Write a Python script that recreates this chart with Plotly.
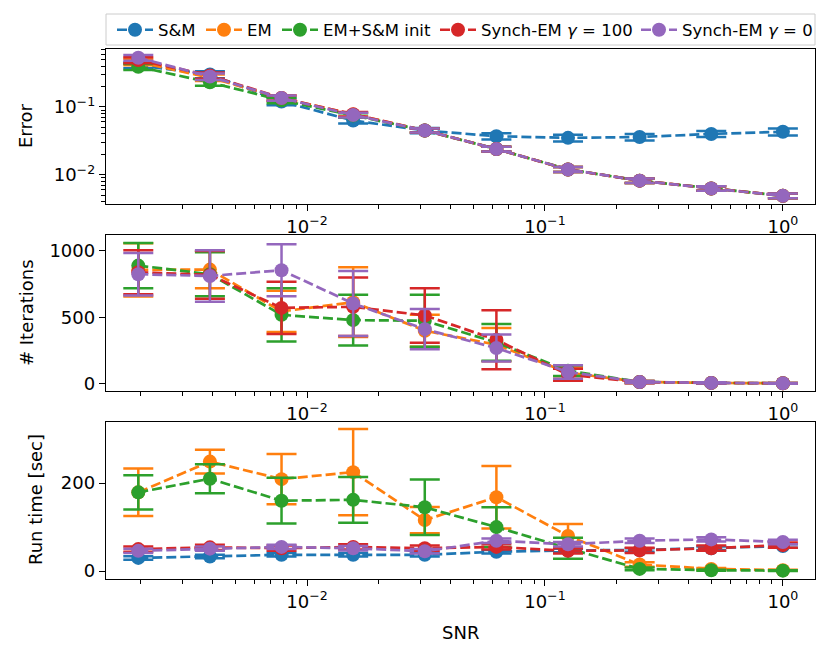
import plotly.graph_objects as go

# ---------------- data ----------------
snr = [0.001953125, 0.00390625, 0.0078125, 0.015625, 0.03125, 0.0625, 0.125, 0.25, 0.5, 1.0]

series_names = ["S&M", "EM", "EM+S&M init", "Synch-EM <i>γ</i> = 100", "Synch-EM <i>γ</i> = 0"]
colors = ["#1f77b4", "#ff7f0e", "#2ca02c", "#d62728", "#9467bd"]

# Error (top panel)
err_sm = [0.41, 0.30, 0.12, 0.063, 0.045, 0.037, 0.035, 0.036, 0.040, 0.043]
err_sm_sd = [0.04, 0.035, 0.014, 0.006, 0.004, 0.004, 0.004, 0.004, 0.004, 0.005]
err_em = [0.46, 0.27, 0.135, 0.077, 0.045, 0.024, 0.012, 0.0082, 0.0063, 0.0049]
err_em_sd = [0.05, 0.03, 0.012, 0.006, 0.003, 0.002, 0.001, 0.0006, 0.0005, 0.0004]
err_emsm = [0.39, 0.23, 0.125, 0.075, 0.045, 0.024, 0.012, 0.0082, 0.0063, 0.0049]
err_emsm_sd = [0.04, 0.025, 0.012, 0.006, 0.003, 0.002, 0.001, 0.0006, 0.0005, 0.0004]
err_s100 = [0.49, 0.29, 0.135, 0.078, 0.045, 0.024, 0.012, 0.0082, 0.0063, 0.0049]
err_s100_sd = [0.05, 0.03, 0.012, 0.006, 0.003, 0.002, 0.001, 0.0006, 0.0005, 0.0004]
err_s0 = [0.53, 0.28, 0.135, 0.076, 0.045, 0.024, 0.012, 0.0082, 0.0063, 0.0049]
err_s0_sd = [0.05, 0.03, 0.012, 0.006, 0.003, 0.002, 0.001, 0.0006, 0.0005, 0.0004]

# Iterations (middle panel) - S&M has none
it_em = [858, 860, 545, 615, 400, 295, 85, 15, 8, 5]
it_em_sd = [200, 140, 155, 262, 120, 125, 45, 8, 4, 3]
it_emsm = [890, 825, 520, 480, 475, 312, 100, 15, 8, 5]
it_emsm_sd = [170, 165, 200, 190, 195, 138, 40, 8, 4, 3]
it_s100 = [840, 820, 572, 580, 515, 332, 70, 14, 8, 5]
it_s100_sd = [165, 180, 197, 220, 205, 222, 45, 8, 4, 3]
it_s0 = [825, 812, 855, 605, 412, 270, 90, 15, 8, 5]
it_s0_sd = [160, 193, 195, 245, 152, 102, 50, 8, 4, 3]

# Run time (bottom panel)
rt_sm = [30, 33, 37, 37, 37, 44, 47, 48, 52, 57]
rt_sm_sd = [4, 4, 4, 4, 4, 4, 4, 4, 4, 4]
rt_em = [179, 249, 209, 225, 116, 168, 80, 15, 5, 2]
rt_em_sd = [54, 27, 57, 98, 30, 71, 27, 5, 2, 1]
rt_emsm = [179, 210, 160, 162, 145, 100, 52, 5, 2, 1]
rt_emsm_sd = [39, 33, 52, 52, 63, 45, 24, 3, 1, 1]
rt_s100 = [50, 54, 52, 55, 52, 55, 46, 47, 52, 59]
rt_s100_sd = [6, 6, 6, 6, 6, 6, 6, 6, 6, 6]
rt_s0 = [46, 51, 55, 52, 45, 69, 61, 69, 72, 66]
rt_s0_sd = [5, 5, 5, 5, 5, 5, 5, 5, 5, 5]

x_ticks = [0.01, 0.1, 1.0]
x_tick_labels = ["10<sup>−2</sup>", "10<sup>−1</sup>", "10<sup>0</sup>"]
err_ticks = [0.01, 0.1]
err_tick_labels = ["10<sup>−2</sup>", "10<sup>−1</sup>"]
it_ticks = [0, 500, 1000]
rt_ticks = [0, 200]

# ---------------- figure ----------------
FONT = "DejaVu Sans"
fig = go.Figure()

panels = [
    ("y", "x", [err_sm, err_em, err_emsm, err_s100, err_s0],
     [err_sm_sd, err_em_sd, err_emsm_sd, err_s100_sd, err_s0_sd]),
    ("y2", "x2", [None, it_em, it_emsm, it_s100, it_s0],
     [None, it_em_sd, it_emsm_sd, it_s100_sd, it_s0_sd]),
    ("y3", "x3", [rt_sm, rt_em, rt_emsm, rt_s100, rt_s0],
     [rt_sm_sd, rt_em_sd, rt_emsm_sd, rt_s100_sd, rt_s0_sd]),
]

legend_ids = ["legend", "legend2", "legend3", "legend4", "legend5"]

for pi, (ya, xa, vals, sds) in enumerate(panels):
    for si in range(5):
        if vals[si] is None:
            continue
        fig.add_trace(go.Scatter(
            x=snr, y=vals[si], xaxis=xa, yaxis=ya,
            mode="lines+markers",
            name=series_names[si],
            legend=legend_ids[si],
            legendgroup=str(si),
            showlegend=(pi == 0),
            line=dict(color=colors[si], width=2.7, dash="10px,4px"),
            marker=dict(color=colors[si], size=14, symbol="circle"),
            error_y=dict(type="data", array=sds[si], visible=True,
                         color=colors[si], thickness=2.5, width=15),
        ))

# plot area (screen px, page is drawn with an 8px body offset): x 106..815, y 49..579
H = 530.0
def py(p):
    return (579 - p) / H
def px(p):
    return (p - 106) / 709.0

axis_common = dict(showline=True, mirror=True, linecolor="black", linewidth=1.4,
                   ticks="outside", ticklen=6, tickwidth=1.3, tickcolor="black",
                   showgrid=False, zeroline=False,
                   tickfont=dict(family=FONT, size=18, color="black"))

minor_log = dict(ticks="outside", ticklen=3.5, tickwidth=1, tickcolor="black",
                 dtick="D1", showgrid=False)

xcommon = dict(axis_common, type="log", range=[-2.845, 0.135],
               tickmode="array", tickvals=x_ticks, ticktext=x_tick_labels,
               minor=minor_log)

fig.update_layout(
    width=822, height=647,
    margin=dict(l=98, r=15, t=41, b=76, autoexpand=False),
    paper_bgcolor="white", plot_bgcolor="white",
    font=dict(family=FONT, size=18, color="black"),
    xaxis=dict(xcommon, anchor="y", domain=[0, 1]),
    xaxis2=dict(xcommon, anchor="y2", domain=[0, 1]),
    xaxis3=dict(xcommon, anchor="y3", domain=[0, 1]),
    yaxis=dict(axis_common, type="log", range=[-2.43, -0.147], anchor="x",
               domain=[py(204), 1.0], tickmode="array", tickvals=err_ticks,
               ticktext=err_tick_labels, minor=minor_log),
    yaxis2=dict(axis_common, range=[-53, 1120], anchor="x2",
                domain=[py(391), py(235)], tickvals=it_ticks),
    yaxis3=dict(axis_common, range=[-18, 339], anchor="x3",
                domain=[0, py(422)], tickvals=rt_ticks),
    showlegend=True,
)

# legends (one per entry to mimic matplotlib's expanded legend)
leg_x = [112, 201, 277, 435, 636]
for i, lid in enumerate(legend_ids):
    fig.update_layout({lid: dict(
        x=px(leg_x[i]), y=py(30), xanchor="left", yanchor="middle",
        orientation="h", bgcolor="rgba(0,0,0,0)", borderwidth=0,
        font=dict(family=FONT, size=16.5, color="black"),
        itemwidth=36,
    )})

# legend frame
fig.add_shape(type="rect", xref="paper", yref="paper",
              x0=px(106), x1=px(815), y0=py(45), y1=py(14),
              line=dict(color="#cccccc", width=1), fillcolor="rgba(255,255,255,0.8)",
              layer="below")

# axis titles as annotations
ylabels = [("Error", 26, 126), ("# Iterations", 26, 313), ("Run time [sec]", 35, 500)]
for txt, xp, yp in ylabels:
    fig.add_annotation(text=txt, xref="paper", yref="paper", x=px(xp), y=py(yp),
                       textangle=-90, showarrow=False, xanchor="center", yanchor="middle",
                       font=dict(family=FONT, size=18, color="black"))
fig.add_annotation(text="SNR", xref="paper", yref="paper", x=px(460), y=py(632),
                   showarrow=False, xanchor="center", yanchor="middle",
                   font=dict(family=FONT, size=18, color="black"))

fig.write_html("out.html")
